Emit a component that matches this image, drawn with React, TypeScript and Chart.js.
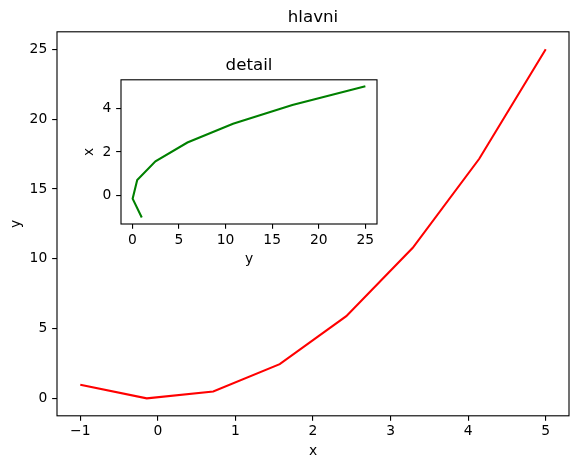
import React, { useEffect, useRef } from "react";
import { Chart, registerables } from "chart.js";

Chart.register(...registerables);

// Data
const xValues = [-1, -0.143, 0.714, 1.571, 2.429, 3.286, 4.143, 5];
const yValues = [1, 0.02, 0.51, 2.469, 5.898, 10.796, 17.163, 25];

// Tick values
const mainXTicks = [-1, 0, 1, 2, 3, 4, 5];
const mainYTicks = [0, 5, 10, 15, 20, 25];
const insetXTicks = [0, 5, 10, 15, 20, 25];
const insetYTicks = [0, 2, 4];

// Text
const mainTitle = "hlavni";
const insetTitle = "detail";
const mainXLabel = "x";
const mainYLabel = "y";
const insetXLabel = "y";
const insetYLabel = "x";

const FONT = "'DejaVu Sans', sans-serif";
const PT = 100 / 72;
const TICK_FS = 10 * PT;
const TITLE_FS = 12 * PT;
const TICK_LEN = 3.5 * PT;
const LW = 0.8 * PT;

const fmt = (v: number) => String(v).replace("-", "\u2212");

const spinesPlugin = (fill: boolean) => ({
  id: "spines",
  beforeDatasetsDraw(chart: any) {
    const { ctx, chartArea: a } = chart;
    if (fill) {
      ctx.save();
      ctx.fillStyle = "#ffffff";
      ctx.fillRect(a.left, a.top, a.right - a.left, a.bottom - a.top);
      ctx.restore();
    }
  },
  afterDraw(chart: any) {
    const { ctx, chartArea: a } = chart;
    ctx.save();
    ctx.strokeStyle = "#000";
    ctx.lineWidth = LW;
    ctx.strokeRect(a.left, a.top, a.right - a.left, a.bottom - a.top);
    ctx.restore();
  },
});

function axis(
  opts: {
    position: "bottom" | "left";
    min: number;
    max: number;
    ticks: number[];
    label: string;
    size: number;
    titlePad: number;
    tickPad: number;
  }
): any {
  const horizontal = opts.position === "bottom";
  return {
    type: "linear",
    position: opts.position,
    min: opts.min,
    max: opts.max,
    afterBuildTicks: (s: any) => {
      s.ticks = opts.ticks.map((v) => ({ value: v }));
    },
    afterFit: (s: any) => {
      if (horizontal) s.height = opts.size;
      else s.width = opts.size;
    },
    grid: {
      drawOnChartArea: false,
      drawTicks: true,
      tickLength: TICK_LEN,
      tickColor: "#000",
      tickWidth: LW,
      lineWidth: LW,
      color: "#000",
    },
    border: { display: false },
    ticks: {
      color: "#000",
      padding: opts.tickPad,
      font: { family: FONT, size: TICK_FS, lineHeight: 1 },
      maxRotation: 0,
      autoSkip: false,
      callback: (v: any) => fmt(Number(v)),
    },
    title: {
      display: true,
      text: opts.label,
      color: "#000",
      font: { family: FONT, size: TICK_FS, lineHeight: 1.2 },
      padding: horizontal ? { top: 0, bottom: opts.titlePad } : { top: opts.titlePad, bottom: 0 },
    },
  };
}

export default function App() {
  const mainRef = useRef<HTMLCanvasElement | null>(null);
  const insetRef = useRef<HTMLCanvasElement | null>(null);

  useEffect(() => {
    const mainData = xValues.map((x, i) => ({ x, y: yValues[i] }));
    const insetData = xValues.map((x, i) => ({ x: yValues[i], y: x }));

    const main = new Chart(mainRef.current as HTMLCanvasElement, {
      type: "scatter",
      data: {
        datasets: [
          {
            data: mainData,
            showLine: true,
            borderColor: "#ff0000",
            backgroundColor: "#ff0000",
            borderWidth: 1.5 * PT,
            pointRadius: 0,
            tension: 0,
          },
        ],
      },
      options: {
        responsive: false,
        animation: false,
        events: [],
        layout: { padding: { left: 0, top: 0, right: 9, bottom: 0 } },
        plugins: {
          legend: { display: false },
          tooltip: { enabled: false },
          title: {
            display: true,
            fullSize: false,
            text: mainTitle,
            color: "#000",
            font: { family: FONT, size: TITLE_FS, lineHeight: 1.2, weight: "normal" },
            padding: { top: 7.6, bottom: 4.2 },
          },
        },
        scales: {
          x: axis({
            position: "bottom",
            min: -1.3,
            max: 5.3,
            ticks: mainXTicks,
            label: mainXLabel,
            size: 469 - 415.8,
            titlePad: 9.0,
            tickPad: 4.2,
          }),
          y: axis({
            position: "left",
            min: -1.229,
            max: 26.249,
            ticks: mainYTicks,
            label: mainYLabel,
            size: 57,
            titlePad: 8.2,
            tickPad: TICK_LEN,
          }),
        },
      },
      plugins: [spinesPlugin(false)],
    } as any);

    const inset = new Chart(insetRef.current as HTMLCanvasElement, {
      type: "scatter",
      data: {
        datasets: [
          {
            data: insetData,
            showLine: true,
            borderColor: "#008000",
            backgroundColor: "#008000",
            borderWidth: 1.5 * PT,
            pointRadius: 0,
            tension: 0,
          },
        ],
      },
      options: {
        responsive: false,
        animation: false,
        events: [],
        layout: { padding: { left: 0, top: 0, right: 320 - 307, bottom: 0 } },
        plugins: {
          legend: { display: false },
          tooltip: { enabled: false },
          title: {
            display: true,
            fullSize: false,
            text: insetTitle,
            color: "#000",
            font: { family: FONT, size: TITLE_FS, lineHeight: 1.2, weight: "normal" },
            padding: { top: 5.6, bottom: 4.2 },
          },
        },
        scales: {
          x: axis({
            position: "bottom",
            min: -1.229,
            max: 26.249,
            ticks: insetXTicks,
            label: insetXLabel,
            size: 230 - 174,
            titlePad: 12.0,
            tickPad: 4.2,
          }),
          y: axis({
            position: "left",
            min: -1.3,
            max: 5.3,
            ticks: insetYTicks,
            label: insetYLabel,
            size: 51,
            titlePad: 10.6,
            tickPad: TICK_LEN,
          }),
        },
      },
      plugins: [spinesPlugin(true)],
    } as any);

    return () => {
      main.destroy();
      inset.destroy();
    };
  }, []);

  return (
    <div style={{ position: "absolute", left: 0, top: 0, width: 578, height: 469, background: "#fff" }}>
      <canvas
        ref={mainRef}
        width={578}
        height={469}
        style={{ position: "absolute", left: 0, top: 0, width: 578, height: 469 }}
      />
      <canvas
        ref={insetRef}
        width={320}
        height={230}
        style={{ position: "absolute", left: 70, top: 50, width: 320, height: 230 }}
      />
    </div>
  );
}
